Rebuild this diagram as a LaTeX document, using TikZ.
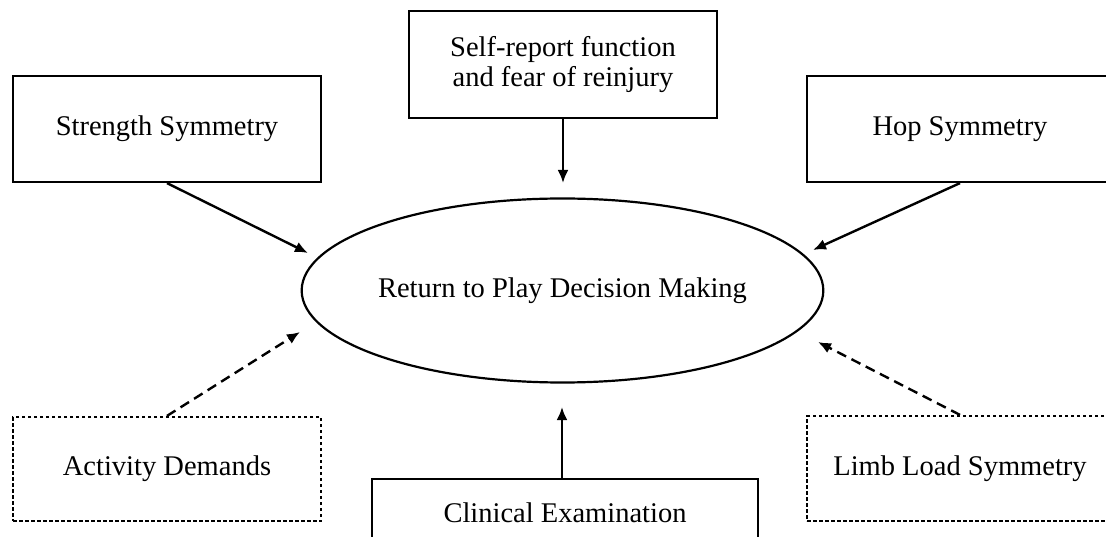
\documentclass[tikz,border=0pt]{standalone}
\usepackage{fontspec}
\setmainfont{Liberation Serif}
\usetikzlibrary{arrows.meta,shapes.geometric}
\begin{document}
\begin{tikzpicture}[x=1pt,y=-1pt,
  every node/.style={font=\fontsize{28.5}{30}\selectfont},
  solidbox/.style={draw, line width=2.2pt, inner sep=0pt, align=center},
  dotbox/.style={draw, line width=2.2pt, dash pattern=on 3.5pt off 2.5pt, inner sep=0pt, align=center},
  arr/.style={line width=2.4pt, -{Latex[length=13pt,width=11pt]}},
  darr/.style={arr, dash pattern=on 10pt off 6pt}]
\useasboundingbox (0,0) rectangle (1106,537);
\clip (0,0) rectangle (1106,537);
\node[solidbox, minimum width=308pt, minimum height=106pt] (ss) at (167,129) {Strength Symmetry};
\node[solidbox, minimum width=308pt, minimum height=107pt] (sr) at (563,64.5) {Self-report function\\and fear of reinjury};
\node[solidbox, minimum width=306pt, minimum height=106pt] (hs) at (960,129) {Hop Symmetry};
\node[draw, ellipse, line width=2.2pt, minimum width=512pt, minimum height=184pt, inner sep=0pt] (rtp) at (562.5,290.5) {Return to Play Decision Making};
\node[dotbox, minimum width=308pt, minimum height=104pt] (ad) at (167,469) {Activity Demands};
\node[solidbox, minimum width=386pt, minimum height=68pt] (ce) at (565,513) {Clinical Examination};
\node[dotbox, minimum width=306pt, minimum height=105pt] (ll) at (960,468.5) {Limb Load Symmetry};
\coordinate (tS) at (308,253);
\coordinate (tR) at (563,183);
\coordinate (tH) at (813,250);
\coordinate (tA) at (300,332);
\coordinate (tL) at (818,342);
\coordinate (tC) at (562,407);
\draw[arr] (ss.south) -- (tS);
\draw[arr] (tR |- sr.south) -- (tR);
\draw[arr] (hs.south) -- (tH);
\draw[darr] (ad.north) -- (tA);
\draw[darr] (ll.north) -- (tL);
\draw[arr] (tC |- ce.north) -- (tC);
\end{tikzpicture}
\end{document}
